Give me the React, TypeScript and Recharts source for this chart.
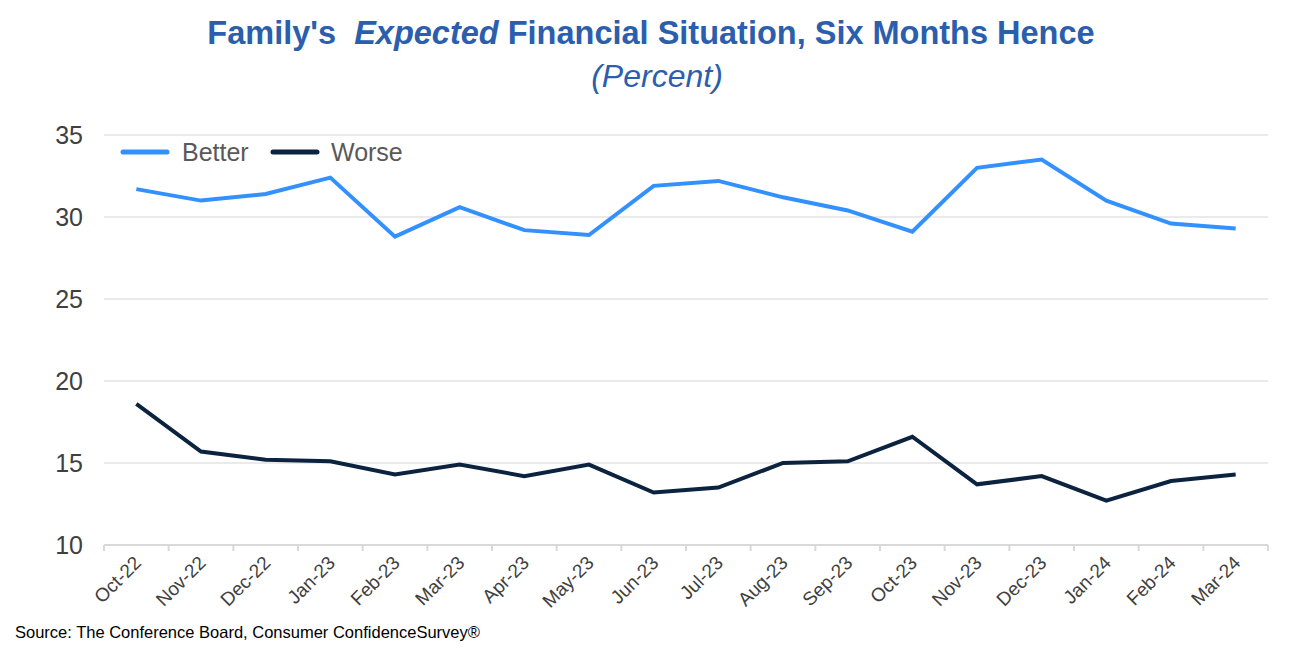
import React from 'react';
import { LineChart, Line, XAxis, YAxis, CartesianGrid } from 'recharts';

const months = [
    'Oct-22', 'Nov-22', 'Dec-22', 'Jan-23', 'Feb-23', 'Mar-23', 'Apr-23', 'May-23', 'Jun-23',
    'Jul-23', 'Aug-23', 'Sep-23', 'Oct-23', 'Nov-23', 'Dec-23', 'Jan-24', 'Feb-24', 'Mar-24'
];
const better = [31.7, 31.0, 31.4, 32.4, 28.8, 30.6, 29.2, 28.9, 31.9, 32.2, 31.2, 30.4, 29.1, 33.0, 33.5, 31.0, 29.6, 29.3];
const worse = [18.6, 15.7, 15.2, 15.1, 14.3, 14.9, 14.2, 14.9, 13.2, 13.5, 15.0, 15.1, 16.6, 13.7, 14.2, 12.7, 13.9, 14.3];
const yTicks = [10, 15, 20, 25, 30, 35];

const data = months.map((m, i) => ({ month: m, better: better[i], worse: worse[i] }));

const W = 1314;
const H = 651;
const margin = { top: 135, right: 46, bottom: 46, left: 0 };
const yAxisWidth = 104;
const bandWidth = (W - margin.right - yAxisWidth) / months.length;

const BLUE = '#3391ff';
const NAVY = '#0c2340';
const TITLE = '#2b5ead';
const FONT = '"Liberation Sans", Arial, sans-serif';

// rotated month label plus a tick mark on the left band edge (and right edge for the last one)
const MonthTick = (props: any) => {
    const { x, y, payload, index } = props;
    const left = x - bandWidth / 2;
    return (
        <g>
            <line x1={left} y1={y - 8} x2={left} y2={y - 2} stroke="#d9d9d9" strokeWidth={2} />
            {index === months.length - 1 && (
                <line x1={x + bandWidth / 2} y1={y - 8} x2={x + bandWidth / 2} y2={y - 2} stroke="#d9d9d9" strokeWidth={2} />
            )}
            <text
                x={x + 6}
                y={y + 11}
                transform={`rotate(-45, ${x + 6}, ${y + 11})`}
                textAnchor="end"
                fill="#404040"
                fontSize={19}
                fontFamily={FONT}
            >
                {payload.value}
            </text>
        </g>
    );
};

const legendItems = [
    { name: 'Better', color: BLUE, left: 123, textLeft: 182 },
    { name: 'Worse', color: NAVY, left: 273, textLeft: 331 },
];

export default function App() {
    return (
        <div style={{ position: 'relative', width: W, height: H, background: '#fff', fontFamily: FONT }}>
            <style>{`body{margin:0}`}</style>
            <div style={{ position: 'absolute', top: 15, left: -6, width: W, textAlign: 'center', color: TITLE, fontSize: 32.5, fontWeight: 'bold' }}>
                Family's&nbsp; <i>Expected</i> Financial Situation, Six Months Hence
            </div>
            <div style={{ position: 'absolute', top: 58, left: 0, width: W, textAlign: 'center', color: TITLE, fontSize: 32, fontStyle: 'italic' }}>
                (Percent)
            </div>
            <LineChart width={W} height={H} data={data} margin={margin}>
                <CartesianGrid vertical={false} stroke="#e3e3e3" strokeWidth={1.5} />
                <XAxis
                    dataKey="month"
                    axisLine={{ stroke: '#d9d9d9', strokeWidth: 2 }}
                    tickLine={false}
                    interval={0}
                    height={60}
                    tick={<MonthTick />}
                    padding={{ left: bandWidth / 2, right: bandWidth / 2 }}
                />
                <YAxis
                    domain={[10, 35]}
                    ticks={yTicks}
                    width={yAxisWidth}
                    axisLine={false}
                    tickLine={false}
                    tickSize={0}
                    tickMargin={21}
                    tick={{ fill: '#404040', fontSize: 25, fontFamily: FONT }}
                />
                <Line type="linear" dataKey="better" name="Better" stroke={BLUE} strokeWidth={4} dot={false} isAnimationActive={false} />
                <Line type="linear" dataKey="worse" name="Worse" stroke={NAVY} strokeWidth={4} dot={false} isAnimationActive={false} />
            </LineChart>
            {legendItems.map(item => (
                <React.Fragment key={item.name}>
                    <svg style={{ position: 'absolute', left: item.left - 3, top: 147 }} width={50} height={10}>
                        <line x1={3} y1={5} x2={47} y2={5} stroke={item.color} strokeWidth={5} strokeLinecap="round" />
                    </svg>
                    <div style={{ position: 'absolute', left: item.textLeft, top: 137, fontSize: 25, color: '#595959', lineHeight: '30px' }}>
                        {item.name}
                    </div>
                </React.Fragment>
            ))}
            <div style={{ position: 'absolute', top: 623, left: 15, fontSize: 16.5, color: '#000' }}>
                Source: The Conference Board, Consumer ConfidenceSurvey®
            </div>
        </div>
    );
}
